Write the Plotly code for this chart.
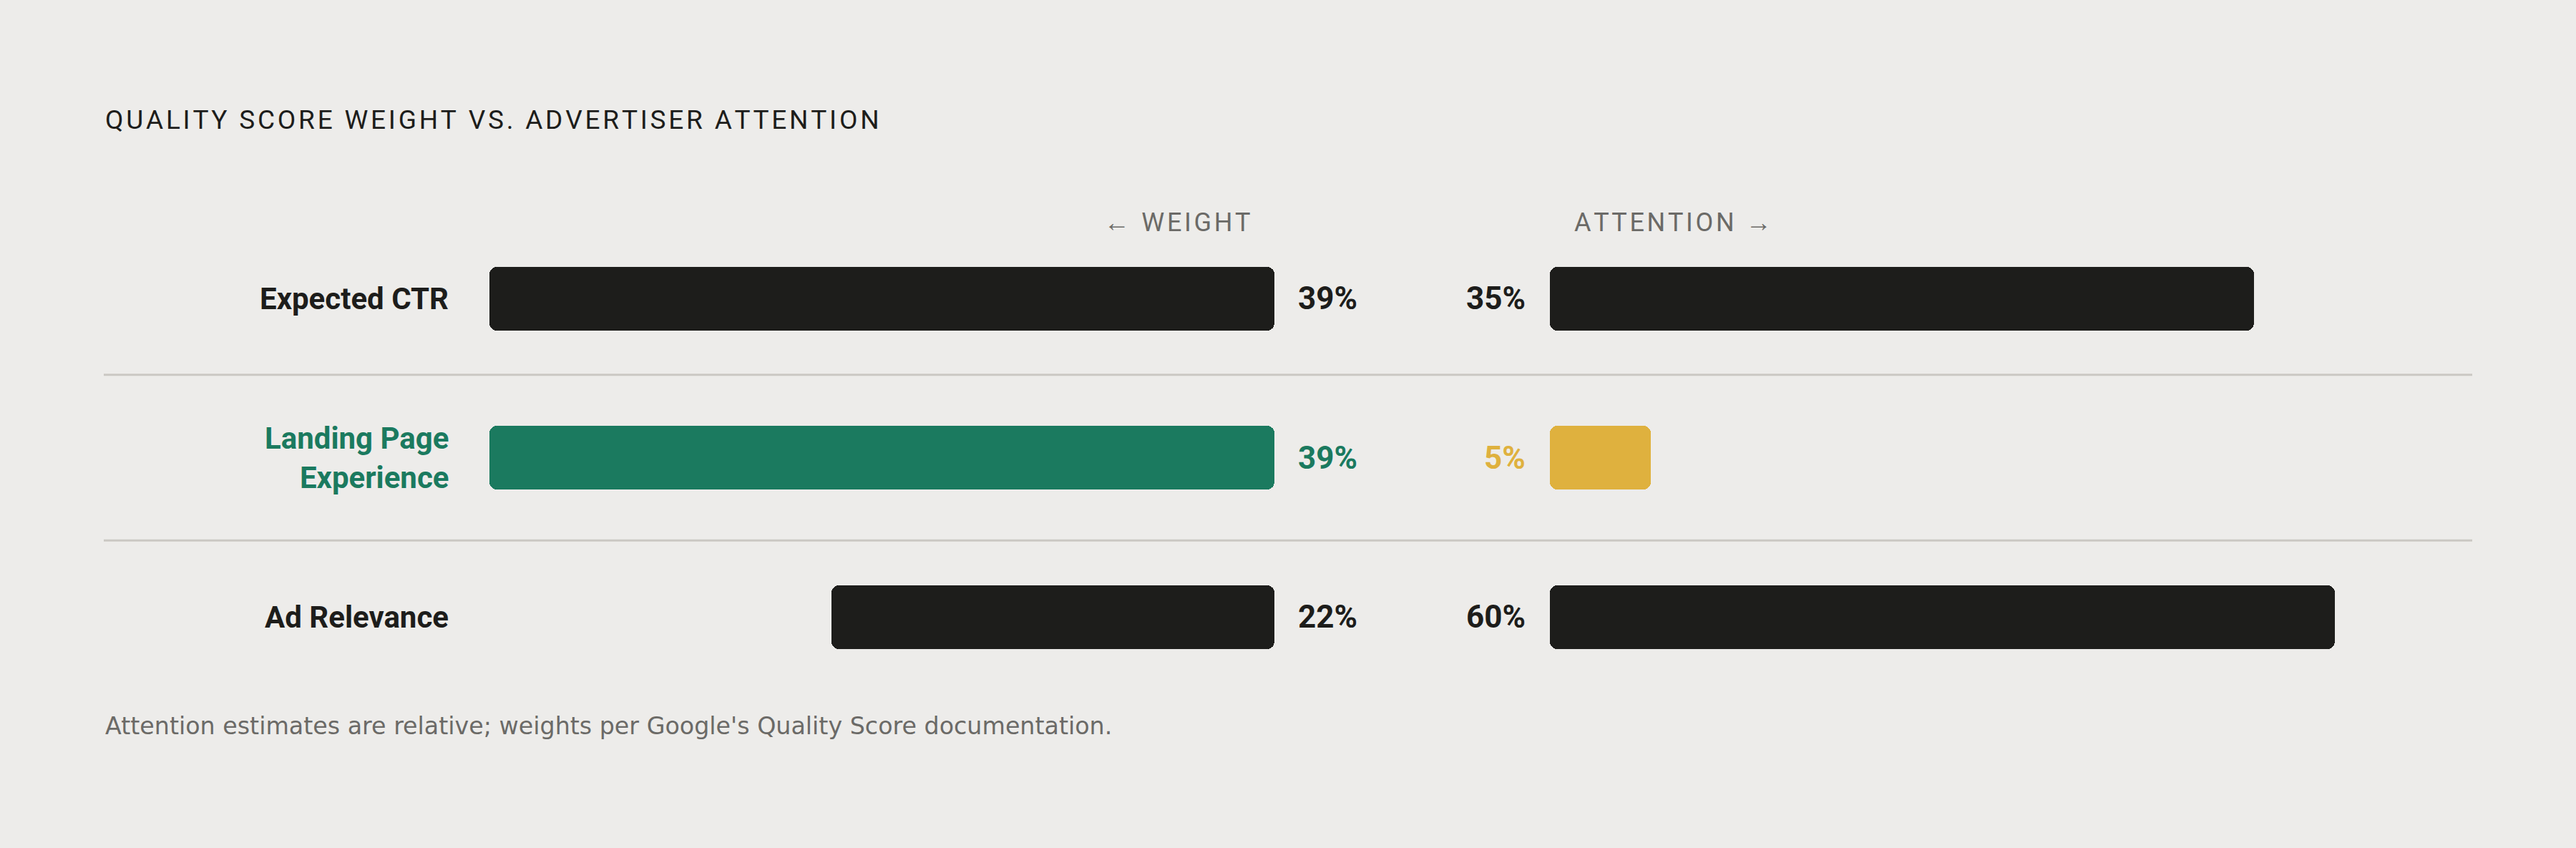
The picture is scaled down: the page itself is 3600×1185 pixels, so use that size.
import plotly.graph_objects as go

# data
factors = ["Expected CTR", "Landing Page<br>Experience", "Ad Relevance"]
weight = [39, 39, 22]
attention = [35, 5, 60]
weight_colors = ["#1d1d1b", "#1b7a5f", "#1d1d1b"]
attention_colors = ["#1d1d1b", "#dfb13e", "#1d1d1b"]
label_colors = ["#1d1d1b", "#1b7a5f", "#1d1d1b"]

W, H = 3600, 1185
BG = "#edecea"
INK = "#1d1d1b"
MUTED = "#6b6a67"
FONT = "Roboto"
HAIR = "\u200a"


def tracked(s):
    # plotly has no letter-spacing, so space the caps out with hair spaces
    return HAIR.join(s)


# both halves share one scale; attention bars are clamped at the max weight
scale_max = max(weight)
attention_drawn = [min(a, scale_max) for a in attention]

rows = list(range(len(factors)))
fig = go.Figure()


def rounded_bars(values, colors, xaxis):
    # plotly only rounds the far end of a bar, so each bar is drawn as two
    # overlapping halves pointing opposite ways
    fig.add_trace(go.Bar(
        y=rows, x=[v * 0.6 for v in values], base=[v * 0.4 for v in values],
        orientation="h", width=0.4, xaxis=xaxis, yaxis="y",
        marker=dict(color=colors, cornerradius=10, line=dict(width=0)),
        hoverinfo="skip", showlegend=False,
    ))
    fig.add_trace(go.Bar(
        y=rows, x=[-v * 0.6 for v in values], base=[v * 0.6 for v in values],
        orientation="h", width=0.4, xaxis=xaxis, yaxis="y",
        marker=dict(color=colors, cornerradius=10, line=dict(width=0)),
        hoverinfo="skip", showlegend=False,
    ))


rounded_bars(weight, weight_colors, "x")
rounded_bars(attention_drawn, attention_colors, "x2")

annotations = []
for i, name in enumerate(factors):
    annotations.append(dict(
        x=629 / W, xref="paper", y=i, yref="y", text=name,
        xanchor="right", yanchor="middle", align="right", showarrow=False,
        font=dict(family=FONT, size=42, color=label_colors[i], weight=700),
    ))
    annotations.append(dict(
        x=1812 / W, xref="paper", y=i, yref="y", text=f"{weight[i]}%",
        xanchor="left", yanchor="middle", showarrow=False,
        font=dict(family=FONT, size=44, color=label_colors[i], weight=700),
    ))
    annotations.append(dict(
        x=2134 / W, xref="paper", y=i, yref="y", text=f"{attention[i]}%",
        xanchor="right", yanchor="middle", showarrow=False,
        font=dict(family=FONT, size=44, color=attention_colors[i], weight=700),
    ))

# headers, title, footnote
annotations += [
    dict(x=1750 / W, xref="paper", y=1 - 311 / H, yref="paper",
         text=tracked("← WEIGHT"),
         xanchor="right", yanchor="middle", showarrow=False,
         font=dict(family=FONT, size=36, color=MUTED)),
    dict(x=2198 / W, xref="paper", y=1 - 311 / H, yref="paper",
         text=tracked("ATTENTION →"),
         xanchor="left", yanchor="middle", showarrow=False,
         font=dict(family=FONT, size=36, color=MUTED)),
    dict(x=145 / W, xref="paper", y=1 - 167 / H, yref="paper",
         text=tracked("QUALITY SCORE WEIGHT VS. ADVERTISER ATTENTION"),
         xanchor="left", yanchor="middle", showarrow=False,
         font=dict(family=FONT, size=37, color=INK)),
    dict(x=145 / W, xref="paper", y=1 - 1014 / H, yref="paper",
         text="Attention estimates are relative; weights per Google's Quality Score documentation.",
         xanchor="left", yanchor="middle", showarrow=False,
         font=dict(family="DejaVu Sans", size=33.3, color=MUTED)),
]

# row dividers
shapes = [
    dict(type="line", xref="paper", yref="y", x0=145 / W, x1=3455 / W, y0=yy, y1=yy,
         line=dict(color="#cbc8c3", width=3))
    for yy in (0.48, 1.52)
]

row_gap = 222.5
top_row = 417
fig.update_layout(
    width=W, height=H, autosize=False,
    margin=dict(l=0, r=0, t=0, b=0),
    paper_bgcolor=BG, plot_bgcolor=BG,
    barmode="overlay", bargap=0,
    xaxis=dict(domain=[684 / W, 1781 / W], range=[scale_max, 0], visible=False, fixedrange=True),
    xaxis2=dict(domain=[2166 / W, 3263 / W], range=[0, scale_max], visible=False,
                anchor="y", fixedrange=True),
    yaxis=dict(domain=[0, 1], range=[(H - top_row) / row_gap, -top_row / row_gap],
               visible=False, fixedrange=True),
    annotations=annotations,
    shapes=shapes,
    showlegend=False,
)

fig.write_html(
    "out.html",
    config={"displayModeBar": False},
    post_script="document.body.style.margin='0';document.body.style.background='%s';" % BG,
)
